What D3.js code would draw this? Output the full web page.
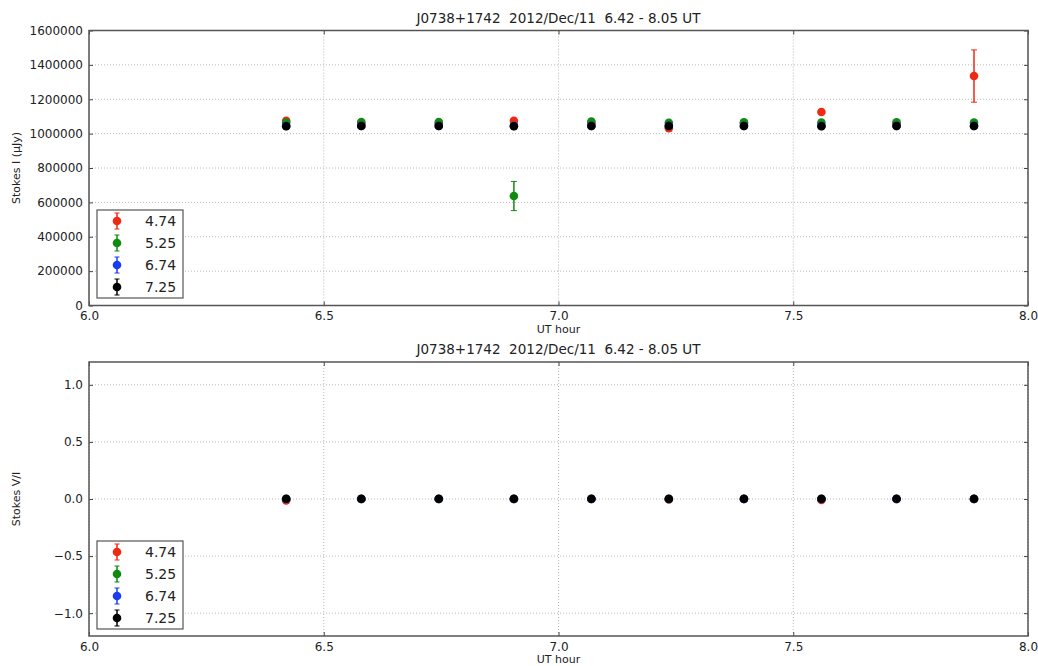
<!DOCTYPE html>
<html>
<head>
<meta charset="utf-8">
<script src="https://d3js.org/d3.v7.min.js"></script>
<style>
  body { margin: 0; background: #fff; }
  text { font-family: "DejaVu Sans", sans-serif; fill: #222; }
</style>
</head>
<body>
<div id="chart"></div>
<script>

// UT hours of each scan
var utHours = [6.42, 6.58, 6.745, 6.905, 7.07, 7.235, 7.395, 7.56, 7.72, 7.885];

var freqLabels = ["4.74", "5.25", "6.74", "7.25"];
var freqColors = ["#ee2a12", "#118a11", "#1a3cf0", "#000000"];

// Stokes I (uJy) per frequency
var stokesI_474 = [1075000, 1060000, 1060000, 1075000, 1060000, 1032000, 1060000, 1126000, 1060000, 1335000];
var stokesI_525 = [1065000, 1067000, 1067000, 637000, 1070000, 1063000, 1066000, 1065000, 1066000, 1064000];
var stokesI_674 = [1045000, 1045000, 1045000, 1045000, 1045000, 1045000, 1045000, 1045000, 1045000, 1045000];
var stokesI_725 = [1043000, 1044000, 1044000, 1043000, 1044000, 1044000, 1044000, 1043000, 1044000, 1044000];

var errI_474 = [8000, 5000, 5000, 6000, 5000, 6000, 5000, 7000, 5000, 152000];
var errI_525 = [5000, 4000, 4000, 85000, 4000, 4000, 4000, 4000, 4000, 4000];
var errI_674 = [3000, 3000, 3000, 3000, 3000, 3000, 3000, 3000, 3000, 3000];
var errI_725 = [3000, 3000, 3000, 3000, 3000, 3000, 3000, 3000, 3000, 3000];

// Stokes V/I per frequency
var stokesV_474 = [-0.012, 0.0, 0.0, 0.0, 0.0, -0.004, 0.0, -0.008, 0.0, 0.0];
var stokesV_525 = [0.0, 0.0, 0.0, 0.0, 0.0, 0.0, 0.0, 0.0, 0.0, 0.0];
var stokesV_674 = [0.0, 0.0, 0.0, 0.0, 0.0, 0.0, 0.0, 0.0, 0.0, 0.0];
var stokesV_725 = [0.002, 0.002, 0.002, 0.002, 0.002, 0.002, 0.002, 0.002, 0.002, 0.002];

var errV_474 = [0.006, 0.004, 0.004, 0.004, 0.004, 0.004, 0.004, 0.005, 0.004, 0.01];
var errV_525 = [0.004, 0.004, 0.004, 0.01, 0.004, 0.004, 0.004, 0.004, 0.004, 0.004];
var errV_674 = [0.003, 0.003, 0.003, 0.003, 0.003, 0.003, 0.003, 0.003, 0.003, 0.003];
var errV_725 = [0.003, 0.003, 0.003, 0.003, 0.003, 0.003, 0.003, 0.003, 0.003, 0.003];

var xTicks = [6.0, 6.5, 7.0, 7.5, 8.0];
var yTicksI = [0, 200000, 400000, 600000, 800000, 1000000, 1200000, 1400000, 1600000];
var yTicksV = [-1.0, -0.5, 0.0, 0.5, 1.0];

var titleText = "J0738+1742  2012/Dec/11  6.42 - 8.05 UT";

var width = 1038, height = 666;

var svg = d3.select("#chart").append("svg")
    .attr("width", width)
    .attr("height", height);

function drawPanel(opts) {
    var left = 89, right = 1028;
    var x = d3.scaleLinear().domain([6.0, 8.0]).range([left, right]);
    var y = d3.scaleLinear().domain(opts.yDomain).range([opts.bottom, opts.top]);

    var g = svg.append("g");

    // grid
    g.selectAll(".vgrid").data(xTicks).enter().append("line")
        .attr("x1", d => x(d)).attr("x2", d => x(d))
        .attr("y1", opts.top).attr("y2", opts.bottom)
        .attr("stroke", "#b8b8b8").attr("stroke-width", 1)
        .attr("stroke-dasharray", "1,2");
    g.selectAll(".hgrid").data(opts.yTicks).enter().append("line")
        .attr("x1", left).attr("x2", right)
        .attr("y1", d => y(d)).attr("y2", d => y(d))
        .attr("stroke", "#b8b8b8").attr("stroke-width", 1)
        .attr("stroke-dasharray", "1,2");

    // axes (ticks inside, like matplotlib)
    var xAxisB = d3.axisBottom(x).tickValues(xTicks).tickSize(-4).tickPadding(6)
        .tickFormat(d3.format(".1f"));
    var xAxisT = d3.axisTop(x).tickValues(xTicks).tickSize(-4).tickFormat("");
    var yAxisL = d3.axisLeft(y).tickValues(opts.yTicks).tickSize(-4).tickPadding(6)
        .tickFormat(opts.yFormat);
    var yAxisR = d3.axisRight(y).tickValues(opts.yTicks).tickSize(-4).tickFormat("");

    [
      [xAxisB, "translate(0," + opts.bottom + ")"],
      [xAxisT, "translate(0," + opts.top + ")"],
      [yAxisL, "translate(" + left + ",0)"],
      [yAxisR, "translate(" + right + ",0)"]
    ].forEach(function (a) {
        var ax = g.append("g").attr("transform", a[1]).call(a[0]);
        ax.select(".domain").remove();
        ax.selectAll("line").attr("stroke", "#444");
        ax.selectAll("text").style("font-size", "12px").attr("fill", "#222");
    });

    // frame
    g.append("rect")
        .attr("x", left).attr("y", opts.top)
        .attr("width", right - left).attr("height", opts.bottom - opts.top)
        .attr("fill", "none").attr("stroke", "#555").attr("stroke-width", 1.5);

    // title
    g.append("text")
        .attr("x", (left + right) / 2).attr("y", opts.top - 8)
        .attr("text-anchor", "middle")
        .style("font-size", "13.5px")
        .style("white-space", "pre")
        .text(titleText);

    // axis labels
    g.append("text")
        .attr("x", (left + right) / 2).attr("y", opts.bottom + 27)
        .attr("text-anchor", "middle")
        .style("font-size", "11px")
        .text("UT hour");
    g.append("text")
        .attr("transform", "translate(20," + ((opts.top + opts.bottom) / 2) + ") rotate(-90)")
        .attr("text-anchor", "middle")
        .style("font-size", "11px")
        .text(opts.yLabel);

    // series
    opts.series.forEach(function (s, si) {
        var pts = utHours.map((t, i) => ({t: t, v: s.values[i], e: s.errors[i]}));
        var sg = g.append("g");
        sg.selectAll(".err").data(pts).enter().append("line")
            .attr("x1", d => x(d.t)).attr("x2", d => x(d.t))
            .attr("y1", d => y(d.v - d.e)).attr("y2", d => y(d.v + d.e))
            .attr("stroke", freqColors[si]).attr("stroke-width", 1.5);
        sg.selectAll(".capl").data(pts.concat(pts)).enter().append("line")
            .attr("x1", d => x(d.t) - 3).attr("x2", d => x(d.t) + 3)
            .attr("y1", (d, i) => i < pts.length ? y(d.v - d.e) : y(d.v + d.e))
            .attr("y2", (d, i) => i < pts.length ? y(d.v - d.e) : y(d.v + d.e))
            .attr("stroke", freqColors[si]).attr("stroke-width", 1);
        sg.selectAll("circle").data(pts).enter().append("circle")
            .attr("cx", d => x(d.t)).attr("cy", d => y(d.v))
            .attr("r", 4.3)
            .attr("fill", freqColors[si]);
    });

    // legend
    var lg = g.append("g").attr("transform", "translate(97," + opts.legendTop + ")");
    lg.append("rect")
        .attr("x", 0).attr("y", 0).attr("width", 86).attr("height", 88)
        .attr("fill", "#fff").attr("stroke", "#555").attr("stroke-width", 1.2);
    freqLabels.forEach(function (lab, i) {
        var cy = 11 + i * 22;
        lg.append("line")
            .attr("x1", 20).attr("x2", 20).attr("y1", cy - 8).attr("y2", cy + 8)
            .attr("stroke", freqColors[i]).attr("stroke-width", 1.5);
        [cy - 8, cy + 8].forEach(function (cyy) {
            lg.append("line")
                .attr("x1", 17.5).attr("x2", 22.5).attr("y1", cyy).attr("y2", cyy)
                .attr("stroke", freqColors[i]).attr("stroke-width", 1);
        });
        lg.append("circle").attr("cx", 20).attr("cy", cy).attr("r", 4.3).attr("fill", freqColors[i]);
        lg.append("text")
            .attr("x", 48).attr("y", cy + 5)
            .style("font-size", "14px")
            .text(lab);
    });
}

drawPanel({
    top: 30.5, bottom: 305.5,
    yDomain: [0, 1600000],
    yTicks: yTicksI,
    yFormat: d3.format("d"),
    yLabel: "Stokes I (\u03bcJy)",
    legendTop: 210,
    series: [
        {values: stokesI_474, errors: errI_474},
        {values: stokesI_525, errors: errI_525},
        {values: stokesI_674, errors: errI_674},
        {values: stokesI_725, errors: errI_725}
    ]
});

drawPanel({
    top: 362, bottom: 636,
    yDomain: [-1.2, 1.2],
    yTicks: yTicksV,
    yFormat: d => d3.format(".1f")(d).replace("-", "\u2212"),
    yLabel: "Stokes V/I",
    legendTop: 541,
    series: [
        {values: stokesV_474, errors: errV_474},
        {values: stokesV_525, errors: errV_525},
        {values: stokesV_674, errors: errV_674},
        {values: stokesV_725, errors: errV_725}
    ]
});

</script>
</body>
</html>
